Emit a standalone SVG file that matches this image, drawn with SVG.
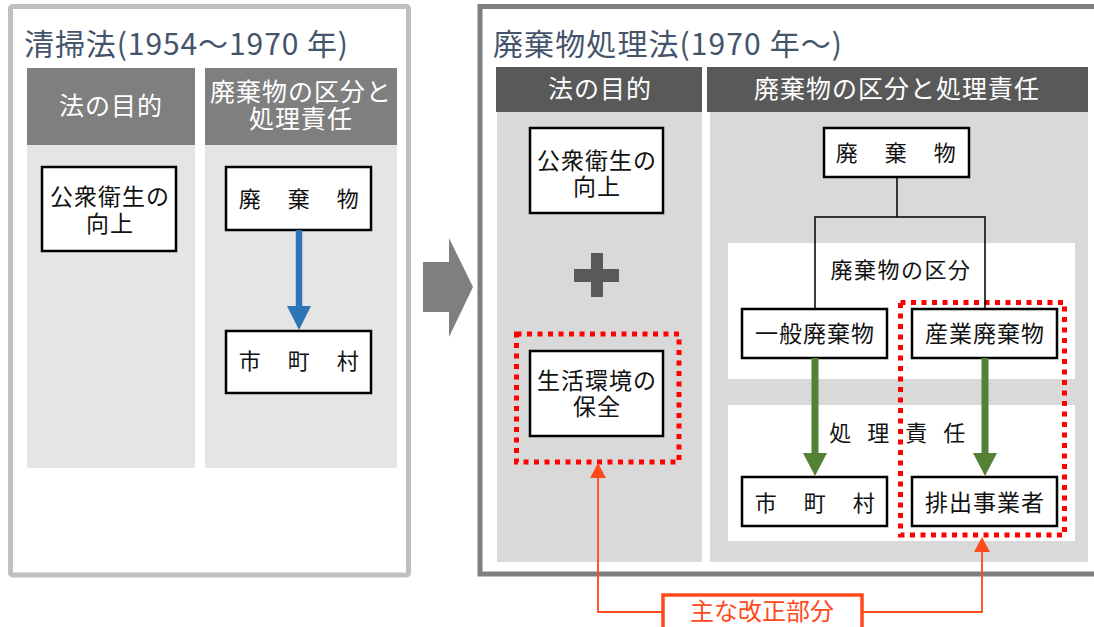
<svg xmlns="http://www.w3.org/2000/svg" width="1094" height="627" viewBox="0 0 1094 627">
<style>
text{font-family:"Noto Sans CJK JP","Noto Sans",sans-serif;}
.title{font-size:30px;fill:#44546a;}
.hdr{font-size:25px;fill:#ffffff;text-anchor:middle;letter-spacing:1px;}
.box{fill:#ffffff;stroke:#000000;stroke-width:2.5;}
.bt{font-size:23px;fill:#111111;text-anchor:middle;letter-spacing:1px;}
.sp{font-size:22px;fill:#111111;text-anchor:middle;letter-spacing:2.5px;}
.lbl{font-size:22px;fill:#111111;text-anchor:middle;letter-spacing:1.5px;}
.red{fill:none;stroke:#ff0000;stroke-width:5;stroke-dasharray:5 5.5;}
.or{fill:none;stroke:#ff4a1c;stroke-width:1.8;}
</style>
<rect width="1094" height="627" fill="#ffffff"/>

<g id="old-law">
<rect x="10.5" y="6.5" width="398" height="568.5" rx="2" fill="#ffffff" stroke="#bfbfbf" stroke-width="5"/>
<text class="title" x="24" y="55" textLength="324">清掃法(1954～1970 年)</text>
<rect x="27" y="68" width="168" height="77" fill="#7f7f7f"/>
<rect x="27" y="145" width="168" height="323" fill="#e5e5e5"/>
<rect x="205" y="68" width="192" height="77" fill="#7f7f7f"/>
<rect x="205" y="145" width="192" height="323" fill="#e5e5e5"/>
<text class="hdr" x="111" y="115">法の目的</text>
<text class="hdr"><tspan x="301" y="101">廃棄物の区分と</tspan><tspan x="301" y="128">処理責任</tspan></text>
</g>

<g id="old-purpose">
<rect class="box" x="42" y="167" width="134" height="84"/>
<text class="bt"><tspan x="110" y="205">公衆衛生の</tspan><tspan x="110" y="232">向上</tspan></text>
</g>
<g id="old-waste">
<rect class="box" x="226" y="167" width="145" height="63"/>
<text class="sp" x="300" y="207">廃　棄　物</text>
</g>
<g id="old-municipality">
<rect class="box" x="226" y="331" width="145" height="62"/>
<text class="sp" x="300" y="369">市　町　村</text>
</g>

<g id="transition-arrow">
<polygon points="423,262 449,262 449,238 473,287 449,337 449,312 423,312" fill="#7f7f7f"/>
</g>

<g id="new-law">
<rect x="480" y="6.5" width="700" height="567.5" fill="#ffffff" stroke="#7f7f7f" stroke-width="5"/>
<text class="title" x="493" y="55" textLength="349">廃棄物処理法(1970 年～)</text>
<rect x="496" y="67" width="206" height="45" fill="#595959"/>
<rect x="497" y="112" width="205" height="450" fill="#d9d9d9"/>
<rect x="707" y="67" width="381" height="45" fill="#595959"/>
<rect x="710" y="112" width="378" height="450" fill="#d9d9d9"/>
<text class="hdr" x="600" y="98">法の目的</text>
<text class="hdr" x="897" y="98">廃棄物の区分と処理責任</text>
<rect x="728" y="243" width="347" height="136" fill="#ffffff"/>
<rect x="728" y="405" width="347" height="136" fill="#ffffff"/>
<text class="lbl" x="901" y="278">廃棄物の区分</text>
<text class="lbl" x="900" y="441" style="letter-spacing:5.5px">処 理 責 任</text>
</g>

<g id="new-purpose1">
<rect class="box" x="530" y="128" width="133" height="85"/>
<text class="bt"><tspan x="597" y="169">公衆衛生の</tspan><tspan x="597" y="195">向上</tspan></text>
</g>
<g id="plus">
<rect x="574" y="269" width="45" height="13" fill="#595959"/>
<rect x="591" y="253" width="12" height="44" fill="#595959"/>
</g>
<g id="new-purpose2">
<rect class="box" x="530" y="351" width="133" height="85"/>
<text class="bt"><tspan x="597" y="389">生活環境の</tspan><tspan x="597" y="415">保全</tspan></text>
</g>
<g id="new-waste">
<rect class="box" x="824" y="128" width="145" height="49"/>
<text class="sp" x="897" y="161">廃　棄　物</text>
</g>
<g id="general-waste">
<rect class="box" x="742" y="309" width="145" height="49"/>
<text class="bt" x="815" y="342">一般廃棄物</text>
</g>
<g id="industrial-waste">
<rect class="box" x="912" y="309" width="145" height="49"/>
<text class="bt" x="985" y="342">産業廃棄物</text>
</g>
<g id="new-municipality">
<rect class="box" x="742" y="477" width="145" height="49"/>
<text class="sp" x="816" y="511">市　町　村</text>
</g>
<g id="business-operator">
<rect class="box" x="912" y="477" width="145" height="49"/>
<text class="bt" x="985" y="511">排出事業者</text>
</g>

<g id="highlight-1"><rect class="red" x="516.5" y="334" width="162.5" height="128"/></g>
<g id="highlight-2"><rect class="red" x="900.5" y="302.5" width="164" height="232.5"/></g>

<g id="main-revision">
<rect x="663" y="595" width="199" height="50" fill="#ffffff" stroke="#ff4a1c" stroke-width="3.5"/>
<text x="762" y="620" style="font-size:24px;fill:#ff4a1c;text-anchor:middle;">主な改正部分</text>
</g>

<g id="connectors">
<polyline points="299,230 299,307" fill="none" stroke="#2e75b6" stroke-width="6.5"/>
<polygon points="287,306 311,306 299,330" fill="#2e75b6"/>
<polyline points="897,177 897,217" fill="none" stroke="#000" stroke-width="1.5"/>
<polyline points="815,309 815,217 985,217 985,309" fill="none" stroke="#000" stroke-width="1.5"/>
<polyline points="815,358 815,454" fill="none" stroke="#538135" stroke-width="7"/>
<polygon points="803,453 827,453 815,476" fill="#538135"/>
<polyline points="985,358 985,454" fill="none" stroke="#538135" stroke-width="7"/>
<polygon points="973,453 997,453 985,476" fill="#538135"/>
<polyline class="or" points="663,612 598,612 598,477"/>
<polygon points="598,463 590,478 606,478" fill="#ff4a1c"/>
<polyline class="or" points="862,612 982,612 982,551"/>
<polygon points="982,537 974,552 990,552" fill="#ff4a1c"/>
</g>
</svg>
